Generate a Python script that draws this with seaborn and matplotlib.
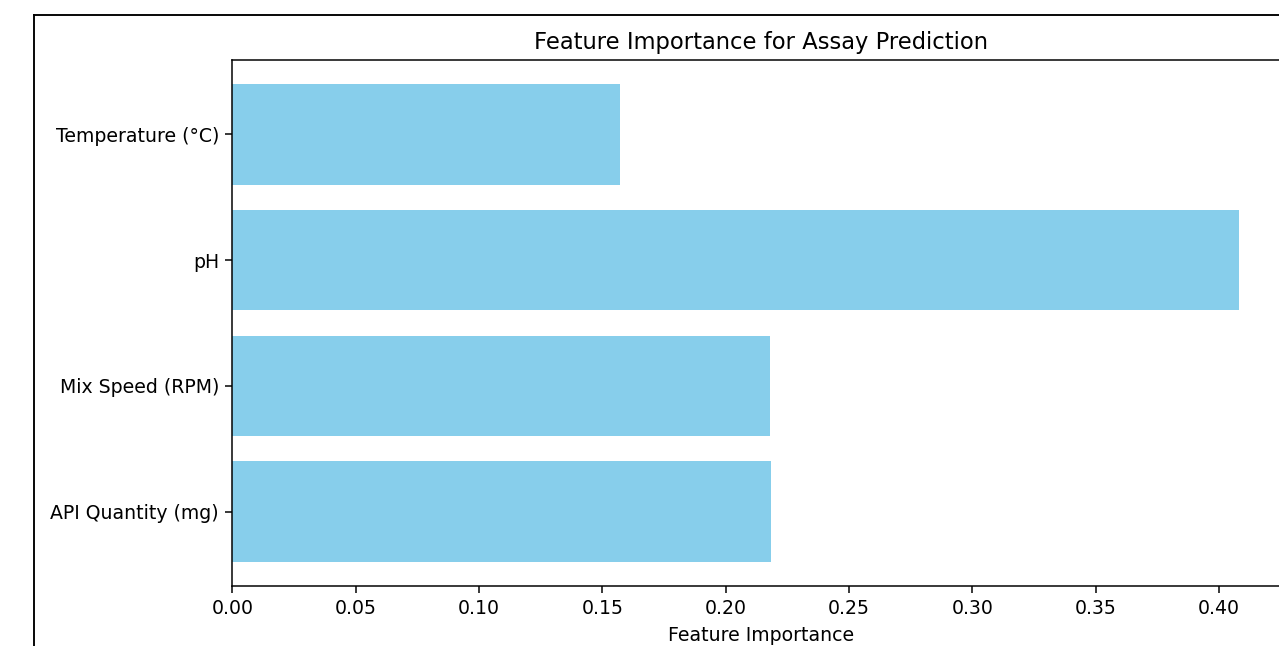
import matplotlib
matplotlib.use("Agg")
import matplotlib.pyplot as plt
import seaborn as sns
import pandas as pd
from matplotlib.lines import Line2D

# data
features = ["Temperature (°C)", "pH", "Mix Speed (RPM)", "API Quantity (mg)"]
importances = [0.157, 0.408, 0.218, 0.2185]

df = pd.DataFrame({"Feature": features, "Importance": importances})

# screenshot looks like ~136 dpi
DPI = 136
fig = plt.figure(figsize=(1279 / DPI, 646 / DPI), dpi=DPI)
# axes runs past the right edge in the reference (cropped screenshot)
ax = fig.add_axes([232.3 / 1279, 1 - 586 / 646, 1057 / 1279, 526 / 646])

sns.barplot(data=df, x="Importance", y="Feature", orient="h",
            color="skyblue", saturation=1, width=0.8, ax=ax)

ax.set_xlim(0, max(importances) * 1.05)
ax.set_ylim(len(features) - 0.5 + 0.09, -0.59)
ax.set_xticks([0.0, 0.05, 0.10, 0.15, 0.20, 0.25, 0.30, 0.35, 0.40])
ax.xaxis.set_major_formatter(matplotlib.ticker.FormatStrFormatter("%.2f"))
ax.set_xlabel("Feature Importance")
ax.set_ylabel("")
ax.set_title("Feature Importance for Assay Prediction")
for s in ax.spines.values():
    s.set_visible(True)

# frame of the original figure (screenshot border)
x0 = 34 / 1279
y0 = 1 - 15 / 646
fig.add_artist(Line2D([x0, x0], [-0.1, y0], color="black", lw=1.0, transform=fig.transFigure))
fig.add_artist(Line2D([x0, 1.1], [y0, y0], color="black", lw=1.0, transform=fig.transFigure))

fig.savefig("out.png", dpi=DPI)
